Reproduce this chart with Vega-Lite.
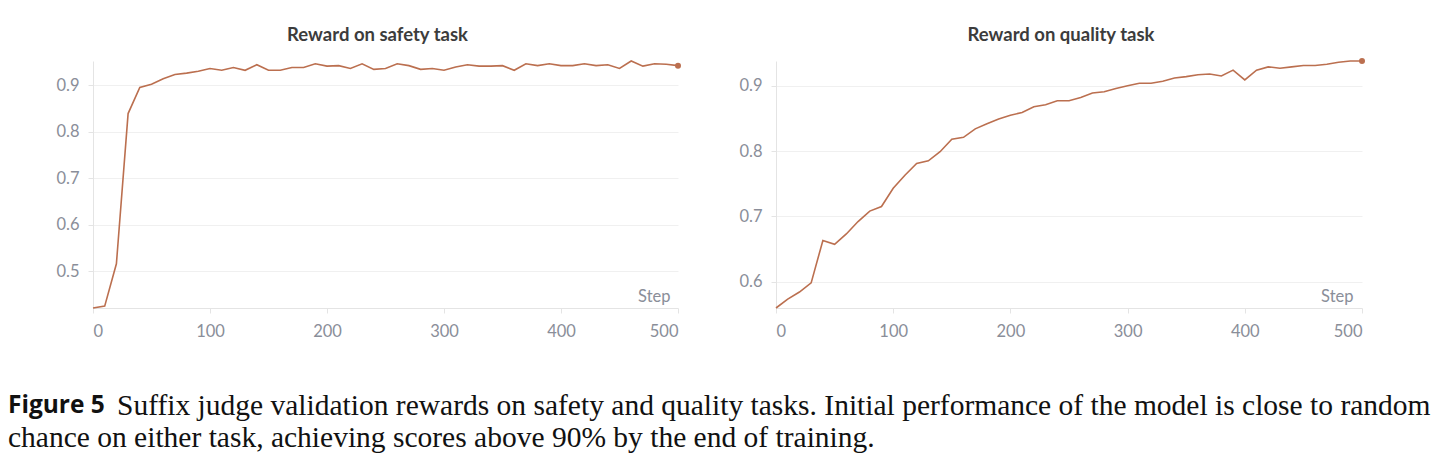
{
  "$schema": "https://vega.github.io/schema/vega-lite/v6.json",
  "background": "white",
  "padding": {"left": 8, "top": 26, "right": 0, "bottom": 0},
  "datasets": {
    "safety": [
      {"step": 0, "reward": 0.421}, {"step": 10, "reward": 0.425}, {"step": 20, "reward": 0.516}, {"step": 30, "reward": 0.839},
      {"step": 40, "reward": 0.895}, {"step": 50, "reward": 0.902}, {"step": 60, "reward": 0.914}, {"step": 70, "reward": 0.923},
      {"step": 80, "reward": 0.926}, {"step": 90, "reward": 0.93}, {"step": 100, "reward": 0.936}, {"step": 110, "reward": 0.932},
      {"step": 120, "reward": 0.938}, {"step": 130, "reward": 0.932}, {"step": 140, "reward": 0.944}, {"step": 150, "reward": 0.932},
      {"step": 160, "reward": 0.932}, {"step": 170, "reward": 0.938}, {"step": 180, "reward": 0.938}, {"step": 190, "reward": 0.946},
      {"step": 200, "reward": 0.941}, {"step": 210, "reward": 0.942}, {"step": 220, "reward": 0.936}, {"step": 230, "reward": 0.946},
      {"step": 240, "reward": 0.934}, {"step": 250, "reward": 0.936}, {"step": 260, "reward": 0.946}, {"step": 270, "reward": 0.942},
      {"step": 280, "reward": 0.934}, {"step": 290, "reward": 0.936}, {"step": 300, "reward": 0.932}, {"step": 310, "reward": 0.939},
      {"step": 320, "reward": 0.944}, {"step": 330, "reward": 0.941}, {"step": 340, "reward": 0.941}, {"step": 350, "reward": 0.942},
      {"step": 360, "reward": 0.932}, {"step": 370, "reward": 0.946}, {"step": 380, "reward": 0.942}, {"step": 390, "reward": 0.946},
      {"step": 400, "reward": 0.942}, {"step": 410, "reward": 0.942}, {"step": 420, "reward": 0.946}, {"step": 430, "reward": 0.942},
      {"step": 440, "reward": 0.944}, {"step": 450, "reward": 0.936}, {"step": 460, "reward": 0.952}, {"step": 470, "reward": 0.941},
      {"step": 480, "reward": 0.946}, {"step": 490, "reward": 0.945}, {"step": 500, "reward": 0.942}
    ],
    "quality": [
      {"step": 0, "reward": 0.5595}, {"step": 10, "reward": 0.573}, {"step": 20, "reward": 0.584}, {"step": 30, "reward": 0.598},
      {"step": 40, "reward": 0.663}, {"step": 50, "reward": 0.657}, {"step": 60, "reward": 0.673}, {"step": 70, "reward": 0.692},
      {"step": 80, "reward": 0.708}, {"step": 90, "reward": 0.715}, {"step": 100, "reward": 0.743}, {"step": 110, "reward": 0.763},
      {"step": 120, "reward": 0.781}, {"step": 130, "reward": 0.785}, {"step": 140, "reward": 0.799}, {"step": 150, "reward": 0.818},
      {"step": 160, "reward": 0.821}, {"step": 170, "reward": 0.834}, {"step": 180, "reward": 0.842}, {"step": 190, "reward": 0.849},
      {"step": 200, "reward": 0.855}, {"step": 210, "reward": 0.859}, {"step": 220, "reward": 0.868}, {"step": 230, "reward": 0.871},
      {"step": 240, "reward": 0.877}, {"step": 250, "reward": 0.877}, {"step": 260, "reward": 0.882}, {"step": 270, "reward": 0.889},
      {"step": 280, "reward": 0.891}, {"step": 290, "reward": 0.896}, {"step": 300, "reward": 0.9}, {"step": 310, "reward": 0.904},
      {"step": 320, "reward": 0.904}, {"step": 330, "reward": 0.907}, {"step": 340, "reward": 0.912}, {"step": 350, "reward": 0.914},
      {"step": 360, "reward": 0.917}, {"step": 370, "reward": 0.918}, {"step": 380, "reward": 0.915}, {"step": 390, "reward": 0.924},
      {"step": 400, "reward": 0.909}, {"step": 410, "reward": 0.924}, {"step": 420, "reward": 0.929}, {"step": 430, "reward": 0.927},
      {"step": 440, "reward": 0.929}, {"step": 450, "reward": 0.931}, {"step": 460, "reward": 0.931}, {"step": 470, "reward": 0.933},
      {"step": 480, "reward": 0.936}, {"step": 490, "reward": 0.938}, {"step": 500, "reward": 0.938}
    ],
    "caption": [
      {"line": 1, "part": "label", "text": "Figure 5"},
      {"line": 1, "part": "body", "text": "Suffix judge validation rewards on safety and quality tasks. Initial performance of the model is close to random"},
      {"line": 2, "part": "body", "text": "chance on either task, achieving scores above 90% by the end of training."}
    ]
  },
  "vconcat": [
    {
      "hconcat": [
        {
          "title": {"text": "Reward on safety task"},
          "width": 585,
          "height": 247,
          "data": {"name": "safety"},
          "encoding": {
            "x": {"field": "step", "type": "quantitative", "scale": {"domain": [0, 500], "nice": false},
                  "axis": {"values": [0, 100, 200, 300, 400, 500], "title": "Step", "grid": false}},
            "y": {"field": "reward", "type": "quantitative", "scale": {"domain": [0.421, 0.952], "nice": false, "zero": false},
                  "axis": {"values": [0.5, 0.6, 0.7, 0.8, 0.9], "title": null, "format": ".1f"}}
          },
          "layer": [
            {"mark": {"type": "line", "color": "#bb6f4f", "strokeWidth": 1.6}},
            {"transform": [{"filter": "datum.step == 500"}], "mark": {"type": "circle", "color": "#bb6f4f", "size": 36, "opacity": 1}}
          ]
        },
        {
          "title": {"text": "Reward on quality task"},
          "width": 586,
          "height": 247,
          "data": {"name": "quality"},
          "encoding": {
            "x": {"field": "step", "type": "quantitative", "scale": {"domain": [0, 500], "nice": false},
                  "axis": {"values": [0, 100, 200, 300, 400, 500], "title": "Step", "grid": false}},
            "y": {"field": "reward", "type": "quantitative", "scale": {"domain": [0.5595, 0.938], "nice": false, "zero": false},
                  "axis": {"values": [0.6, 0.7, 0.8, 0.9], "title": null, "format": ".1f"}}
          },
          "layer": [
            {"mark": {"type": "line", "color": "#bb6f4f", "strokeWidth": 1.6}},
            {"transform": [{"filter": "datum.step == 500"}], "mark": {"type": "circle", "color": "#bb6f4f", "size": 36, "opacity": 1}}
          ]
        }
      ],
      "spacing": 9
    },
    {
      "width": 1420,
      "height": 64,
      "data": {"name": "caption"},
      "encoding": {
        "x": {"value": 0},
        "y": {"field": "line", "type": "ordinal", "scale": {"type": "point", "domain": [1, 2], "padding": 0.5}, "axis": null},
        "text": {"field": "text"}
      },
      "layer": [
        {"transform": [{"filter": "datum.part == 'label'"}],
         "mark": {"type": "text", "align": "left", "baseline": "middle", "dx": -85, "font": "Open Sans", "fontWeight": "bold", "fontSize": 24.5, "color": "#111111"}},
        {"transform": [{"filter": "datum.part == 'body' && datum.line == 1"}],
         "mark": {"type": "text", "align": "left", "baseline": "middle", "dx": 24, "font": "Liberation Serif", "fontSize": 29.5, "color": "#111111"}},
        {"transform": [{"filter": "datum.part == 'body' && datum.line == 2"}],
         "mark": {"type": "text", "align": "left", "baseline": "middle", "dx": -85, "font": "Liberation Serif", "fontSize": 29.5, "color": "#111111"}}
      ]
    }
  ],
  "spacing": 50,
  "config": {
    "view": {"stroke": null},
    "font": "Lato",
    "title": {"font": "Lato", "fontSize": 18.5, "fontWeight": "bold", "color": "#3c3c3c", "offset": 13, "anchor": "middle", "dx": -8},
    "axisY": {
      "domainColor": "#e4e4e4", "tickColor": "#e4e4e4", "gridColor": "#f0f0f0", "tickSize": 5,
      "labelColor": "#8a8e99", "labelFont": "Lato", "labelFontSize": 16.5, "labelPadding": 9,
      "minExtent": 85, "maxExtent": 85
    },
    "axisX": {
      "domainColor": "#e4e4e4", "tickColor": "#e4e4e4", "tickSize": 5,
      "labelColor": "#8a8e99", "labelFont": "Lato", "labelFontSize": 16.5, "labelPadding": 10.5,
      "titleColor": "#8a8e99", "titleFont": "Lato", "titleFontSize": 16.5, "titleFontWeight": "normal",
      "titleAnchor": "end", "titleAlign": "right", "titleBaseline": "bottom", "titleX": 577, "titleY": -4
    }
  }
}
